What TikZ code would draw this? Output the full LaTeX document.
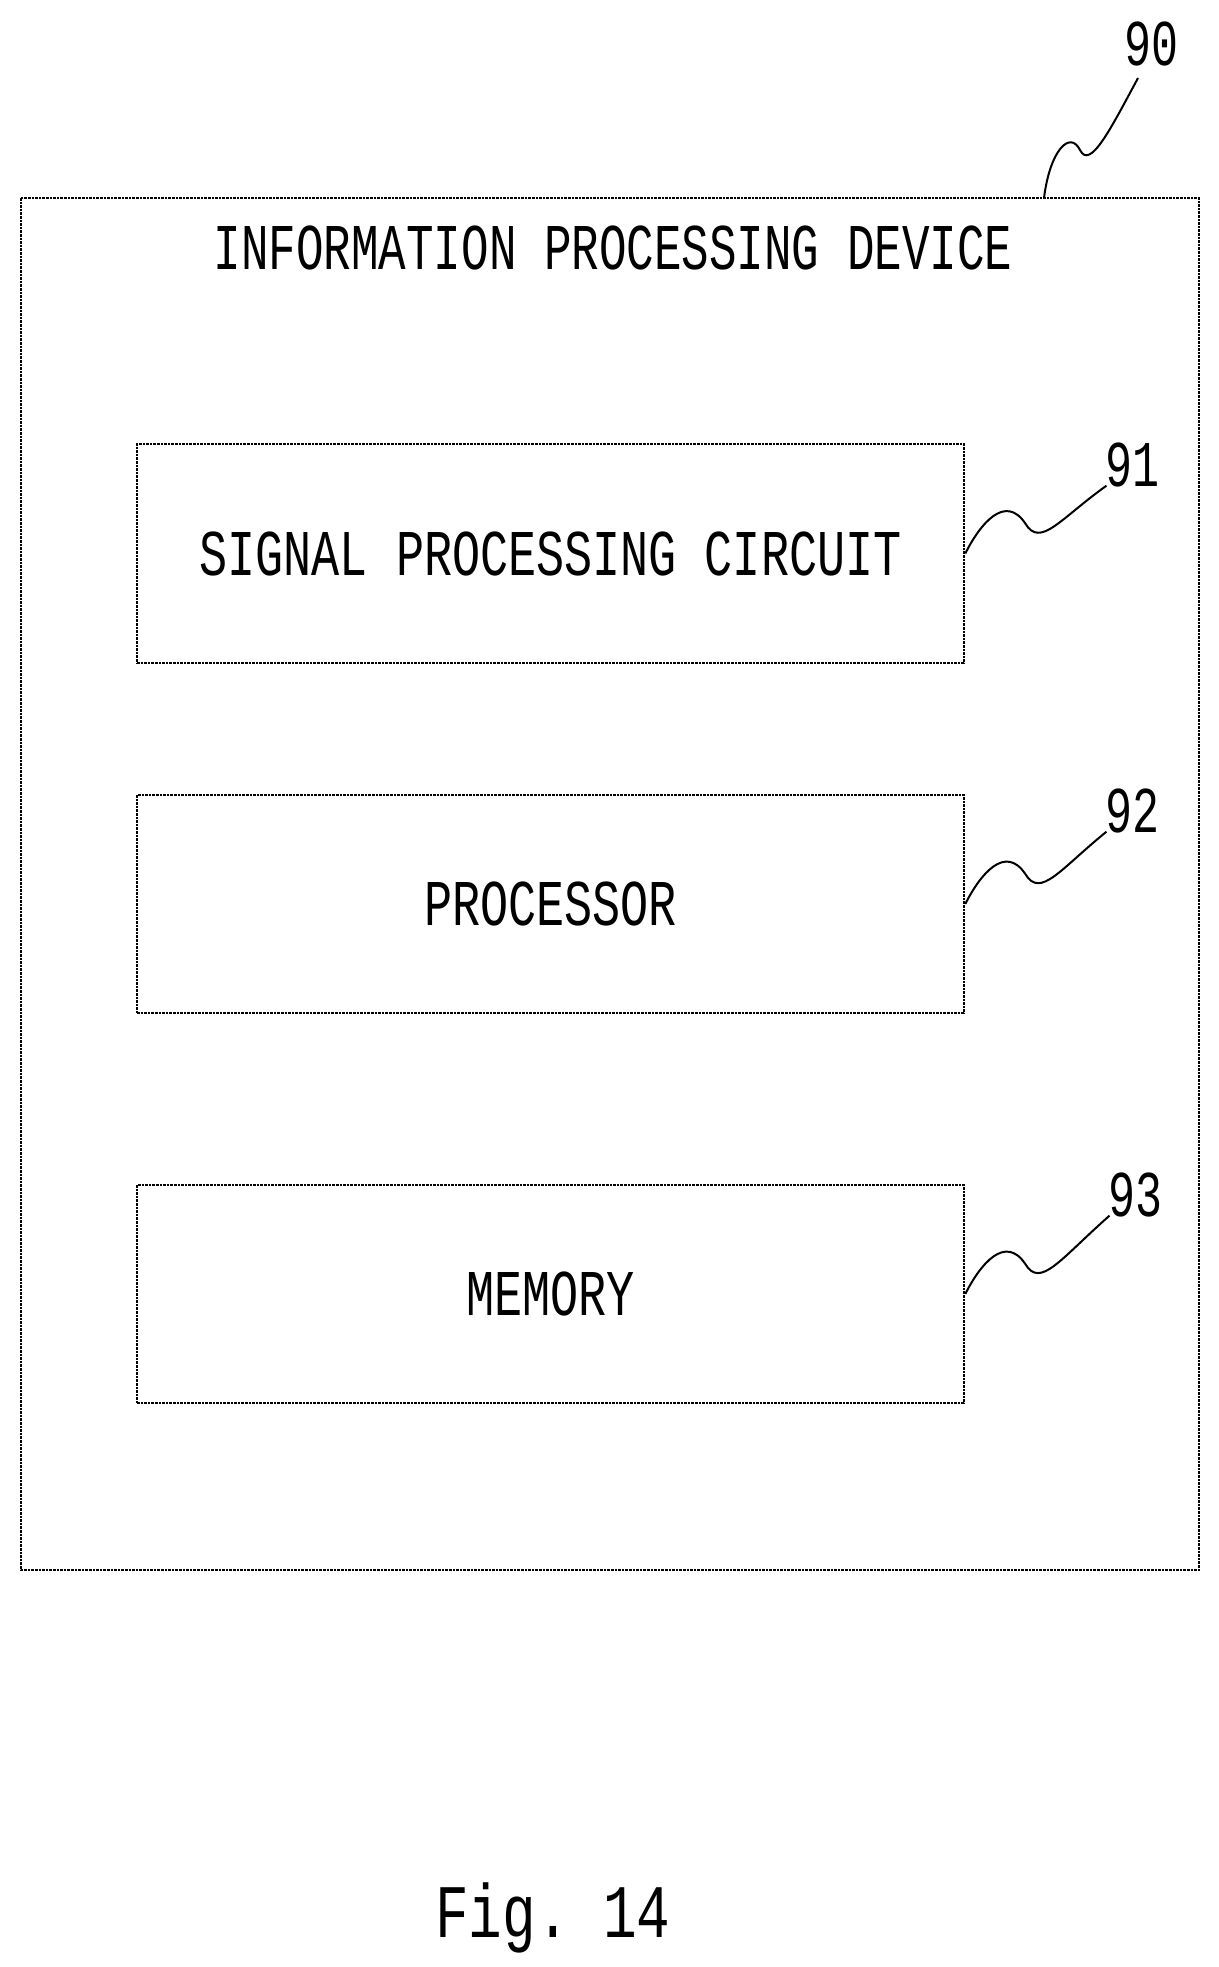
\documentclass[tikz,border=0pt]{standalone}
\usepackage{fontspec}
\setmonofont{Liberation Mono}
\usetikzlibrary{calc}
\begin{document}
\begin{tikzpicture}[x=1pt,y=-1pt,
  box/.style={draw,line width=2.6pt,densely dotted},
  lbl/.style={font=\ttfamily\fontsize{45}{45}\selectfont},
  lead/.style={line width=2pt}]
\useasboundingbox (0,0) rectangle (1218,1967);
\draw[box] (21,198) rectangle (1199,1570);
\node[lbl] (t) at (613,248) {\scalebox{1.02}[1.45]{INFORMATION PROCESSING DEVICE}};
\node[box,minimum width=827pt,minimum height=219pt,lbl] (b1) at (550.5,553.5) {\scalebox{1.04}[1.45]{SIGNAL PROCESSING CIRCUIT}};
\node[box,minimum width=827pt,minimum height=218pt,lbl] (b2) at (550.5,904) {\scalebox{1.04}[1.45]{PROCESSOR}};
\node[box,minimum width=827pt,minimum height=218pt,lbl] (b3) at (550.5,1294) {\scalebox{1.04}[1.45]{MEMORY}};
\node[lbl] (n90) at (1151,44) {\scalebox{1}[1.45]{90}};
\node[lbl] (n91) at (1132,465) {\scalebox{1}[1.45]{91}};
\node[lbl] (n92) at (1132,811) {\scalebox{1}[1.45]{92}};
\node[lbl] (n93) at (1135,1195) {\scalebox{1}[1.45]{93}};
\coordinate (c0) at (1044,198);
\draw[lead] (c0) .. controls (1050,150) and (1070,130) .. (1080,150) .. controls (1090,170) and (1110,130) .. (1138,78);
\foreach \b/\n in {b1/n91,b2/n92,b3/n93}{
  \draw[lead] (\b.east) .. controls ($(\b.east)+(15,-30)$) and ($(\b.east)+(40,-60)$) .. ($(\b.east)+(60,-30)$) .. controls ($(\b.east)+(75,-5)$) and ($(\b.east)+(95,-35)$) .. ($(\n.south west)+(5,-5)$);
}
\node[font=\ttfamily\fontsize{56}{56}\selectfont] (fig) at (553,1918) {\scalebox{1}[1.35]{Fig. 14}};
\end{tikzpicture}
\end{document}
